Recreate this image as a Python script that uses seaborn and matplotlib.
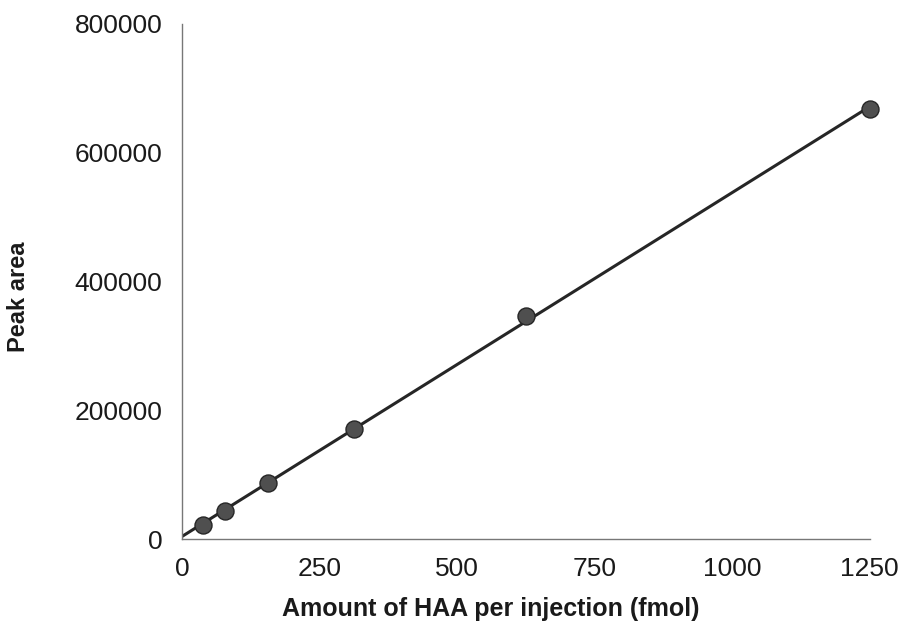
import numpy as np
import pandas as pd
import matplotlib
matplotlib.use("Agg")
import matplotlib.pyplot as plt
import seaborn as sns

# Calibration standards: injected amount of HAA and measured peak area
amount_fmol = [39.06, 78.13, 156.25, 312.5, 625, 1250]
peak_area = [22000, 44000, 86500, 171000, 347000, 667000]

x_ticks = [0, 250, 500, 750, 1000, 1250]
y_ticks = [0, 200000, 400000, 600000, 800000]

sns.set_theme(style="white")
plt.rcParams["font.family"] = ["Liberation Sans", "DejaVu Sans"]

df = pd.DataFrame({"amount": amount_fmol, "area": peak_area})

# least-squares calibration line
slope, intercept = np.polyfit(df["amount"], df["area"], 1)
fit = pd.DataFrame({"amount": [0, max(amount_fmol)]})
fit["area"] = intercept + slope * fit["amount"]

fig = plt.figure(figsize=(9.05, 6.36), dpi=100)
ax = fig.add_axes([0.201, 0.1525, 0.76, 0.81])

sns.lineplot(data=fit, x="amount", y="area", ax=ax, color="#262626",
             linewidth=2.2, zorder=2)
sns.scatterplot(data=df, x="amount", y="area", ax=ax, s=150,
                color="#4f4f4f", edgecolor="#262626", linewidth=1.0,
                zorder=3, clip_on=False)

ax.set_xlim(0, 1250)
ax.set_ylim(0, 800000)
ax.set_xticks(x_ticks)
ax.set_yticks(y_ticks)
ax.set_xticklabels([str(v) for v in x_ticks])
ax.set_yticklabels([str(v) for v in y_ticks])

for side in ("top", "right"):
    ax.spines[side].set_visible(False)
for side in ("left", "bottom"):
    ax.spines[side].set_color("#777777")
    ax.spines[side].set_linewidth(1.0)

ax.tick_params(axis="both", which="major", direction="out", length=5,
               width=1.0, color="#777777", labelsize=19, labelcolor="#1a1a1a")
ax.tick_params(axis="x", pad=8)
ax.tick_params(axis="y", pad=9)

ax.set_xlabel("Amount of HAA per injection (fmol)", fontsize=18,
              fontweight="bold", color="#1a1a1a")
ax.set_ylabel("Peak area", fontsize=17, fontweight="bold", color="#1a1a1a")
ax.xaxis.set_label_coords(0.449, -0.112)
ax.yaxis.set_label_coords(-0.221, 0.47)

fig.savefig("out.png", dpi=100, facecolor="white")
